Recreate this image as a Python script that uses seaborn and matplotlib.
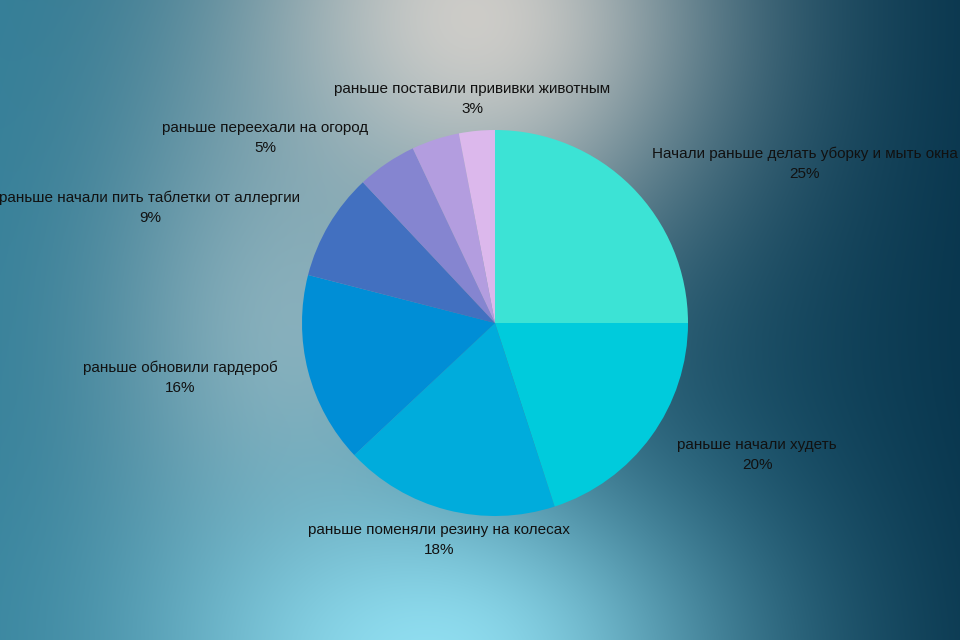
import numpy as np
import matplotlib
matplotlib.use("Agg")
import matplotlib.pyplot as plt
import seaborn as sns

# ---- data ----
categories = [
    "Начали раньше делать уборку и мыть окна",
    "раньше начали худеть",
    "раньше поменяли резину на колесах",
    "раньше обновили гардероб",
    "раньше начали пить таблетки от аллергии",
    "раньше переехали на огород",
    "",
    "раньше поставили прививки животным",
]
values = [25, 20, 18, 16, 9, 5, 4, 3]
pct_labels = ["25%", "20%", "18%", "16%", "9%", "5%", "", "3%"]

# ---- style ----
colors = ["#3ce3d5", "#00cbdc", "#00acdc", "#008ed6", "#4270c0", "#8585d0", "#b39ddf", "#dcb8ec"]
label_pos = [(1.606, 0.824), (1.358, -0.684), (-0.29, -1.124), (-1.632, -0.285),
             (-1.788, 0.596), (-1.192, 0.961), None, (-0.119, 1.161)]

sns.set_style("white")
plt.rcParams["font.family"] = ["Liberation Sans", "DejaVu Sans"]

W, H = 960, 640
fig = plt.figure(figsize=(W / 100, H / 100), dpi=100)

# background gradient
bg = fig.add_axes([0, 0, 1, 1])
yy, xx = np.mgrid[0:H, 0:W].astype(float)
t = xx / W
left = np.array([0x30, 0x7c, 0x96]) / 255
right = np.array([0x08, 0x36, 0x4e]) / 255
img = left[None, None, :] * (1 - t[..., None]) + right[None, None, :] * t[..., None]

def blob(cx, cy, sx, sy, col, strength):
    w = strength * np.exp(-(((xx - cx) / sx) ** 2 + ((yy - cy) / sy) ** 2))
    c = np.array(col) / 255
    return w[..., None], c

for (cx, cy, sx, sy, col, s) in [
    (470, 20, 250, 240, (0xd8, 0xd2, 0xcc), 0.95),
    (290, 330, 200, 240, (0xa8, 0xc6, 0xce), 0.7),
    (430, 660, 300, 200, (0x95, 0xe4, 0xf6), 0.95),
]:
    w, c = blob(cx, cy, sx, sy, col, s)
    img = img * (1 - w) + c[None, None, :] * w

bg.imshow(np.clip(img, 0, 1), aspect="auto", extent=(0, 1, 0, 1), origin="upper")
bg.axis("off")

ax = fig.add_axes([0, 0, 1, 1])
ax.set_facecolor("none")
cx_px, cy_px, r_px = 495, 323, 193

ax.pie(values, colors=sns.color_palette(colors), startangle=90, counterclock=False,
       radius=1.0, wedgeprops=dict(linewidth=0), center=(0, 0), frame=True)
ax.set_aspect("equal")
ax.set_xlim(-cx_px / r_px, (W - cx_px) / r_px)
ax.set_ylim(-(H - cy_px) / r_px, cy_px / r_px)
ax.axis("off")

for cat, pct, pos in zip(categories, pct_labels, label_pos):
    if pos is None or not cat:
        continue
    ax.text(pos[0], pos[1], f"{cat}\n{pct}", ha="center", va="center",
            fontsize=11, color="#111111", linespacing=1.55)

fig.savefig("out.png", dpi=100)
